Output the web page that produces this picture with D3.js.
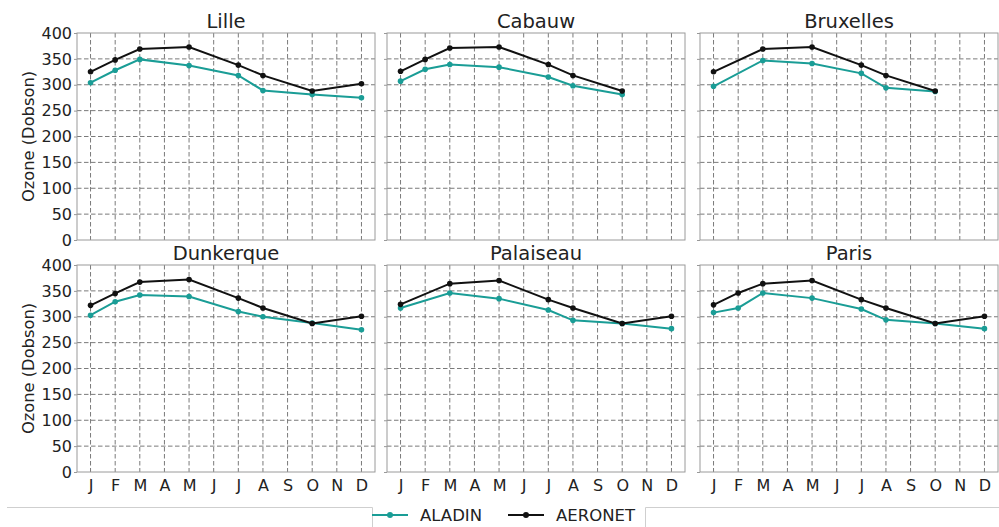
<!DOCTYPE html>
<html><head><meta charset="utf-8">
<script src="https://cdn.jsdelivr.net/npm/d3@7"></script>
<style>body{margin:0;background:#fff;} text{font-family:"DejaVu Sans",sans-serif;fill:#222;}</style>
</head><body><svg id="c" width="999" height="527"></svg>
<script>
const months = ["J","F","M","A","M","J","J","A","S","O","N","D"];
const yTicks = [0,50,100,150,200,250,300,350,400];
const stations = ["Lille","Cabauw","Bruxelles","Dunkerque","Palaiseau","Paris"];
// values per month (null = no data)
const aladin_Lille     = [304,328,349,null,337,null,318,289,null,281,null,275];
const aeronet_Lille    = [325,348,369,null,373,null,338,318,null,288,null,302];
const aladin_Cabauw    = [307,330,339,null,334,null,315,298,null,281,null,null];
const aeronet_Cabauw   = [326,349,371,null,373,null,339,318,null,288,null,null];
const aladin_Bruxelles = [297,null,347,null,341,null,322,294,null,287,null,null];
const aeronet_Bruxelles= [325,null,369,null,373,null,338,318,null,288,null,null];
const aladin_Dunkerque = [303,329,342,null,339,null,310,300,null,288,null,275];
const aeronet_Dunkerque= [322,345,367,null,372,null,336,317,null,287,null,301];
const aladin_Palaiseau = [317,null,346,null,335,null,313,293,null,287,null,277];
const aeronet_Palaiseau= [324,null,364,null,370,null,333,317,null,287,null,301];
const aladin_Paris     = [308,317,346,null,336,null,315,294,null,287,null,277];
const aeronet_Paris    = [323,346,364,null,370,null,333,317,null,287,null,301];
const aladinSeries = [aladin_Lille,aladin_Cabauw,aladin_Bruxelles,aladin_Dunkerque,aladin_Palaiseau,aladin_Paris];
const aeronetSeries = [aeronet_Lille,aeronet_Cabauw,aeronet_Bruxelles,aeronet_Dunkerque,aeronet_Palaiseau,aeronet_Paris];
const seriesNames = ["ALADIN","AERONET"];
const seriesColors = ["#1a9d96","#111111"];

const svg = d3.select("#c");
const colX = [77,387,700], panelW = 298;
const rowY = [33,265], panelH = 207;

stations.forEach((name,i)=>{
  const x0 = colX[i%3], y0 = rowY[Math.floor(i/3)];
  const g = svg.append("g").attr("transform",`translate(${x0},${y0})`);
  const x = d3.scaleLinear().domain([0.45,12.55]).range([0,panelW]);
  const y = d3.scaleLinear().domain([0,400]).range([panelH,0]);
  // grid
  g.selectAll(".gx").data(d3.range(1,13)).join("line")
    .attr("x1",d=>x(d)).attr("x2",d=>x(d)).attr("y1",0).attr("y2",panelH)
    .attr("stroke","#7a7a7a").attr("stroke-width",1).attr("stroke-dasharray","4.5,2.5");
  g.selectAll(".gy").data(yTicks.slice(1,-1)).join("line")
    .attr("x1",0).attr("x2",panelW).attr("y1",d=>y(d)).attr("y2",d=>y(d))
    .attr("stroke","#7a7a7a").attr("stroke-width",1).attr("stroke-dasharray","4.5,2.5");
  // axes
  const ya = d3.axisLeft(y).tickValues(yTicks).tickSize(3).tickPadding(2);
  const yg = g.append("g").call(ya);
  yg.select(".domain").remove();
  yg.selectAll("line").attr("stroke","#999");
  if(i%3===0){ yg.selectAll("text").attr("font-size",16).attr("fill","#222"); }
  else yg.selectAll("text").remove();
  if(Math.floor(i/3)===1){
    const xa = d3.axisBottom(x).tickValues(d3.range(1,13)).tickFormat(d=>months[d-1]).tickSize(0).tickPadding(8);
    const xg = g.append("g").attr("transform",`translate(0,${panelH})`).call(xa);
    xg.select(".domain").remove();
    xg.selectAll("text").attr("font-size",16).attr("fill","#222");
  }
  g.append("rect").attr("width",panelW).attr("height",panelH).attr("fill","none").attr("stroke","#9a9a9a").attr("stroke-width",1);
  g.append("text").attr("x",panelW/2).attr("y",-5).attr("text-anchor","middle").attr("font-size",19.5).text(name);
  if(i%3===0){
    g.append("text").attr("transform",`translate(-43,${panelH/2}) rotate(-90)`).attr("text-anchor","middle").attr("font-size",16.3).text("Ozone (Dobson)");
  }
  [aladinSeries[i],aeronetSeries[i]].forEach((vals,k)=>{
    const pts = vals.map((v,j)=>({m:j+1,v})).filter(p=>p.v!==null);
    g.append("path").datum(pts).attr("fill","none").attr("stroke",seriesColors[k]).attr("stroke-width",2)
      .attr("d",d3.line().x(p=>x(p.m)).y(p=>y(p.v)));
    g.selectAll(null).data(pts).join("circle").attr("cx",p=>x(p.m)).attr("cy",p=>y(p.v)).attr("r",2.8).attr("fill",seriesColors[k]);
  });
});

// legend frame
svg.append("path").attr("d","M7,507.5H372.5V527M645.5,527V507.5H999").attr("fill","none").attr("stroke","#cfcfcf").attr("stroke-width",1);
const leg = svg.append("g");
const legX = [372,508];
seriesNames.forEach((s,k)=>{
  leg.append("line").attr("x1",legX[k]).attr("x2",legX[k]+36).attr("y1",515).attr("y2",515).attr("stroke",seriesColors[k]).attr("stroke-width",2);
  leg.append("circle").attr("cx",legX[k]+18).attr("cy",515).attr("r",3).attr("fill",seriesColors[k]);
  leg.append("text").attr("x",legX[k]+48).attr("y",521).attr("font-size",16.5).text(s);
});
</script></body></html>
